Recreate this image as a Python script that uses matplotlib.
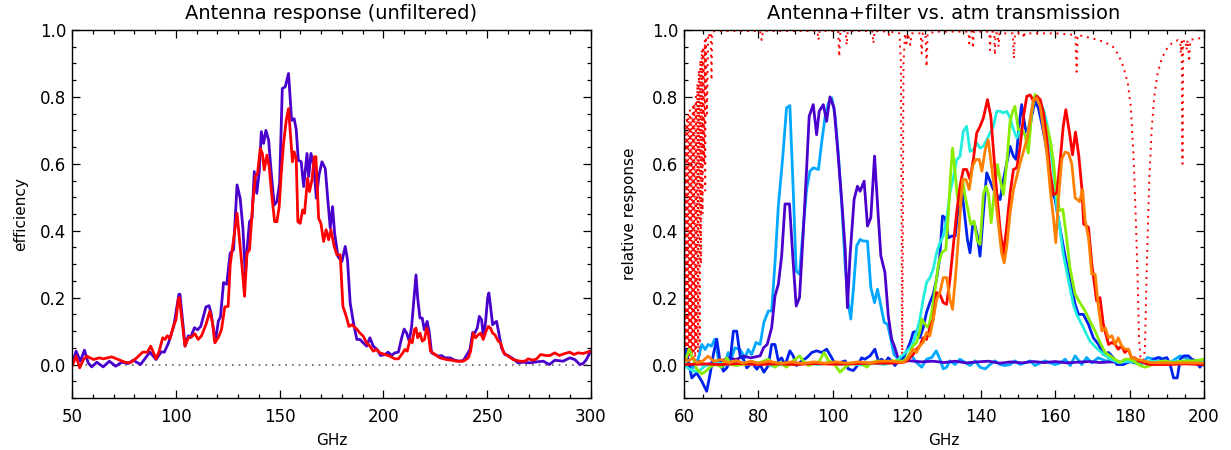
import numpy as np
import matplotlib
matplotlib.use("Agg")
import matplotlib.pyplot as plt
from matplotlib.ticker import MultipleLocator

plt.rcParams['font.family'] = ['DejaVu Sans']

# ---- left panel: antenna efficiency (GHz, efficiency) ----
ant_purple = np.array([
    (50, 0.0), (52, 0.04), (54, 0.01), (56, 0.043), (57.8, 0.005), (59.5, -0.007), (62, 0.007),
    (65, -0.007), (68, 0.01), (71, -0.005), (74, 0.007), (77, 0.003), (79.5, 0.013), (83, 0.0),
    (87.5, 0.037), (90.5, 0.015), (93, 0.038), (94.5, 0.037), (96.5, 0.065), (99, 0.114),
    (101.5, 0.21), (102, 0.21), (104.5, 0.055), (106, 0.086), (107, 0.08), (109, 0.11),
    (110.5, 0.104), (112, 0.114), (114.5, 0.172), (116, 0.176), (117, 0.154), (119, 0.067),
    (120.5, 0.13), (121.5, 0.142), (123, 0.245), (124.5, 0.24), (126.2, 0.333), (127.8, 0.343),
    (129.5, 0.537), (131, 0.497), (132.3, 0.41), (133.5, 0.268), (134.6, 0.363), (135.5, 0.427),
    (136.7, 0.437), (137.8, 0.577), (139, 0.512), (140.2, 0.577), (141.2, 0.696), (142.3, 0.661),
    (143.4, 0.70), (144.7, 0.671), (146, 0.572), (147.4, 0.477), (148.7, 0.487), (150, 0.542),
    (151.3, 0.825), (152.7, 0.83), (154.3, 0.87), (155.8, 0.73), (157, 0.735), (158, 0.703),
    (159, 0.611), (160.4, 0.606), (161.6, 0.532), (163.2, 0.631), (164, 0.562), (165.1, 0.631),
    (166.4, 0.596), (167.7, 0.497), (169, 0.567), (170.4, 0.606), (172, 0.586), (173.3, 0.487),
    (174.4, 0.408), (175.5, 0.472), (176.5, 0.393), (178.1, 0.323), (180, 0.308), (181.6, 0.353),
    (182.7, 0.313), (184, 0.184), (185.6, 0.124), (187.2, 0.075), (188.7, 0.075), (190.3, 0.065),
    (191.9, 0.055), (193.5, 0.08), (195.1, 0.055), (197, 0.045), (198.6, 0.027), (200.7, 0.03),
    (202.3, 0.037), (203.9, 0.027), (205.5, 0.035), (207.2, 0.037), (208.8, 0.08), (210, 0.106),
    (211.2, 0.094), (212.4, 0.07), (213.6, 0.114), (214.7, 0.194), (215.7, 0.268), (216.5, 0.199),
    (217.6, 0.139), (218.7, 0.139), (219.7, 0.104), (221.1, 0.129), (222.1, 0.096), (223.2, 0.035),
    (224.8, 0.03), (226.4, 0.025), (228, 0.027), (229.6, 0.02), (232, 0.02), (234.4, 0.013),
    (236.5, 0.01), (238.5, 0.012), (240, 0.027), (241.7, 0.045), (243, 0.096), (244, 0.094),
    (245.2, 0.109), (246.2, 0.144), (247.3, 0.134), (248.1, 0.085), (249.2, 0.126), (250.2, 0.199),
    (250.8, 0.214), (251.6, 0.174), (252.6, 0.119), (253.7, 0.126), (254.5, 0.129), (255.6, 0.094),
    (256.9, 0.05), (258.5, 0.03), (260.1, 0.027), (262.5, 0.017), (264.9, 0.005), (267.3, 0.007),
    (270.6, 0.005), (273.8, 0.008), (277, 0.01), (279.9, 0.0), (282.6, 0.013), (286.6, 0.01),
    (289.8, 0.02), (292.2, 0.015), (294.6, 0.0), (296.2, 0.003), (297.8, 0.015), (299.8, 0.04),
])

ant_red = np.array([
    (50, -0.005), (52, 0.025), (53.7, -0.01), (55.5, 0.015), (57.2, 0.025), (60.3, 0.015),
    (63.2, 0.02), (65.1, 0.017), (69.1, 0.023), (72.3, 0.015), (75.5, 0.007), (78, 0.005),
    (81.2, 0.02), (84, 0.037), (86.3, 0.037), (87.9, 0.055), (90.5, 0.017), (92, 0.04),
    (93.7, 0.08), (94.8, 0.075), (95.9, 0.086), (97.2, 0.077), (98.8, 0.114), (100.1, 0.134),
    (101.2, 0.194), (101.7, 0.2), (104.4, 0.055), (106, 0.08), (107.6, 0.083), (109.2, 0.092),
    (110.8, 0.075), (112.4, 0.086), (114.5, 0.119), (116.4, 0.159), (117.7, 0.124), (118.8, 0.065),
    (120.4, 0.08), (122, 0.104), (123.6, 0.172), (125.2, 0.174), (126.2, 0.298), (127.8, 0.373),
    (129.5, 0.452), (131, 0.353), (132.2, 0.273), (133.1, 0.204), (134.3, 0.333), (135.5, 0.343),
    (137.2, 0.492), (138.3, 0.562), (139.4, 0.572), (140.7, 0.646), (141.7, 0.631), (142.6, 0.582),
    (143.9, 0.626), (145, 0.591), (146.3, 0.502), (147.6, 0.427), (148.7, 0.427), (149.8, 0.472),
    (150.8, 0.572), (151.9, 0.661), (153.2, 0.73), (154.3, 0.765), (155.4, 0.671), (156.2, 0.606),
    (157, 0.636), (158, 0.616), (158.8, 0.427), (159.9, 0.422), (161.1, 0.462), (162, 0.452),
    (163.5, 0.557), (164.4, 0.517), (165.6, 0.552), (166.7, 0.621), (167.5, 0.621), (168.8, 0.437),
    (169.9, 0.422), (171.2, 0.368), (172.4, 0.403), (173.6, 0.373), (174.7, 0.403), (176.3, 0.353),
    (177.6, 0.328), (179.2, 0.328), (180.5, 0.174), (182.1, 0.144), (183.4, 0.114), (184.8, 0.119),
    (187.2, 0.106), (188.7, 0.094), (190.3, 0.085), (191.9, 0.065), (193.5, 0.055), (195.1, 0.04),
    (196.7, 0.045), (198.3, 0.035), (200.7, 0.03), (203.1, 0.025), (205.5, 0.017), (207.2, 0.017),
    (208.8, 0.03), (210.4, 0.045), (211.5, 0.04), (212.8, 0.075), (213.9, 0.065), (214.9, 0.104),
    (215.7, 0.109), (216.5, 0.08), (217.6, 0.094), (218.7, 0.07), (219.8, 0.075), (220.8, 0.109),
    (221.6, 0.094), (222.7, 0.04), (224.8, 0.03), (227.2, 0.02), (230.4, 0.015), (232.8, 0.013),
    (235.2, 0.01), (238.5, 0.01), (240.9, 0.02), (242, 0.04), (243.3, 0.094), (244.4, 0.08),
    (245.7, 0.089), (246.8, 0.094), (248.1, 0.075), (249.4, 0.099), (250.5, 0.114), (251.6, 0.109),
    (252.6, 0.094), (253.7, 0.089), (255.3, 0.07), (256.4, 0.065), (258, 0.035), (260.1, 0.025),
    (262.5, 0.015), (265.7, 0.01), (268.1, 0.01), (269.8, 0.017), (272.2, 0.013), (273.8, 0.017),
    (275.7, 0.03), (278.3, 0.027), (280.2, 0.027), (282.6, 0.035), (284.7, 0.027), (287.4, 0.033),
    (289.8, 0.037), (291.7, 0.03), (293.8, 0.035), (296.2, 0.033), (299.8, 0.04),
])

# ---- right panel: filtered channels (GHz, relative response) ----
ch_purple = np.array([
    (60, 0.0), (62, 0.0), (64, 0.002), (66, 0.0), (68, 0.005), (70, 0.01), (72, 0.02), (74, 0.015),
    (76, 0.025), (78, 0.02), (80.5, 0.026), (81.4, 0.05), (82.4, 0.06), (83.6, 0.11), (84.5, 0.205),
    (85.4, 0.24), (86.3, 0.325), (87.2, 0.48), (88.4, 0.48), (89.4, 0.305), (90.2, 0.175),
    (91.1, 0.2), (92.1, 0.394), (93, 0.583), (93.7, 0.742), (94.8, 0.777), (95.7, 0.687),
    (96.4, 0.757), (97.5, 0.777), (98.4, 0.727), (99.3, 0.8), (100.4, 0.767), (101.3, 0.652),
    (102.5, 0.484), (103.4, 0.344), (104, 0.17), (104.7, 0.325), (105.8, 0.494), (106.7, 0.533),
    (107.4, 0.518), (108.5, 0.548), (109.4, 0.414), (110.3, 0.439), (111.3, 0.623), (112.3, 0.444),
    (113, 0.325), (114.1, 0.275), (115, 0.146), (115.9, 0.076), (116.8, 0.05), (117.7, 0.016),
    (119.1, 0.011), (121, 0.011), (124, 0.008), (127, 0.01), (130, 0.006), (133, 0.01), (136, 0.005),
    (139, 0.008), (142, 0.01), (145, 0.004), (148, 0.008), (151, 0.005), (154, 0.009), (157, 0.006),
    (160, 0.009), (163, 0.005), (166, 0.007), (169, 0.009), (172, 0.006), (175, 0.008), (178, 0.007),
    (181, 0.009), (184, 0.006), (187, 0.008), (190, 0.006), (193, 0.008), (196, 0.007), (200, 0.008),
])

ch_lightblue = np.array([
    (60, 0.04), (60.3, 0.036), (61.2, 0.0), (62.5, -0.01), (63.9, 0.02), (64.8, 0.06), (65.7, 0.045),
    (66.5, 0.06), (67.4, 0.055), (68.3, 0.076), (69.2, 0.02), (70.1, -0.01), (71, 0.0), (71.9, 0.036),
    (72.8, 0.02), (73.7, 0.05), (75.1, 0.045), (76.4, 0.02), (77.3, 0.045), (78.2, 0.03),
    (79.4, 0.066), (80.5, 0.06), (81.5, 0.126), (82.7, 0.16), (83.6, 0.16), (84.5, 0.305),
    (85.4, 0.474), (86.6, 0.622), (87.6, 0.767), (88.5, 0.774), (89.4, 0.523), (90.2, 0.28),
    (91.1, 0.27), (92, 0.394), (93, 0.523), (93.9, 0.578), (94.8, 0.588), (96.2, 0.583),
    (97.1, 0.667), (98, 0.742), (98.9, 0.782), (99.8, 0.797), (100.7, 0.742), (101.6, 0.623),
    (102.5, 0.474), (103.4, 0.295), (104.2, 0.185), (104.9, 0.136), (105.6, 0.225), (106.5, 0.355),
    (107.4, 0.374), (108.3, 0.369), (109.4, 0.369), (110.3, 0.23), (111.3, 0.185), (112.1, 0.225),
    (113, 0.176), (113.9, 0.126), (114.8, 0.12), (115.7, 0.076), (116.5, 0.031), (117.7, 0.016),
    (119, 0.026), (120, 0.016), (121.3, 0.026), (122.6, 0.006), (124, -0.008), (125.3, 0.016),
    (126.7, 0.021), (127.9, 0.041), (128.9, 0.016), (129.8, -0.013), (130.7, -0.008), (131.6, 0.011),
    (133, 0.0), (134.3, 0.016), (135.7, 0.006), (137, -0.003), (138.4, 0.011), (139.7, -0.008),
    (141.1, -0.013), (142.4, 0.0), (143.7, 0.011), (145.1, 0.0), (146.4, -0.003), (147.8, 0.0),
    (149.1, 0.011), (150.5, 0.0), (151.8, 0.005), (153.2, 0.011), (154.5, -0.003), (155.9, 0.005),
    (157.2, 0.011), (158.6, 0.005), (159.9, 0.0), (161.3, 0.005), (162.6, 0.016), (164, -0.003),
    (165.3, 0.026), (167.1, 0.0), (168.4, 0.021), (169.8, 0.005), (171.5, 0.02), (173.8, 0.01),
    (175.5, 0.016), (177.5, 0.005), (179.5, 0.01), (181.3, 0.005), (183.1, 0.0), (184.8, 0.021),
    (186.4, 0.016), (188.2, 0.021), (189.5, 0.01), (190.9, 0.005), (192.2, 0.016), (193.6, 0.026),
    (194.9, 0.021), (196.3, 0.01), (197.6, 0.005), (199, 0.01), (200, 0.01),
])

ch_blue = np.array([
    (60, 0.04), (60.3, 0.046), (61.2, 0.01), (62.1, -0.04), (63.4, -0.025), (64.8, -0.05),
    (66.1, -0.08), (67, -0.03), (67.9, 0.03), (68.8, 0.076), (69.7, 0.01), (70.6, -0.02),
    (71.5, -0.01), (72.4, 0.01), (73.3, 0.1), (74.2, 0.1), (75.1, 0.026), (76, 0.016),
    (76.9, -0.01), (77.8, 0.0), (78.7, 0.0), (79.6, -0.014), (80.5, 0.0), (81.5, -0.023),
    (82.7, -0.003), (83.6, 0.06), (84.5, 0.06), (85.4, 0.011), (86.3, 0.02), (87.2, -0.003),
    (88.5, 0.041), (89.4, 0.026), (90.3, -0.003), (91.7, 0.011), (93, 0.02), (94.4, 0.036),
    (95.7, 0.041), (97.1, 0.036), (98.4, 0.046), (99.8, 0.02), (100.7, 0.0), (102, 0.006),
    (103.4, 0.011), (104.2, -0.013), (105.6, -0.018), (106.9, 0.0), (107.8, 0.02), (108.7, 0.016),
    (110.1, 0.026), (111.4, 0.046), (112.3, 0.011), (113.2, 0.016), (114.1, 0.006), (115, 0.02),
    (115.9, 0.011), (116.8, -0.003), (117.7, 0.011), (118.6, 0.011), (119.9, 0.04), (120.9, 0.066),
    (121.7, 0.096), (122.6, 0.1), (123.5, 0.08), (124.4, 0.11), (125.3, 0.156), (126.2, 0.185),
    (127.1, 0.21), (128, 0.255), (128.8, 0.315), (129.6, 0.444), (130.3, 0.439), (131.2, 0.379),
    (132.1, 0.384), (133, 0.384), (133.9, 0.474), (134.8, 0.523), (135.7, 0.434), (136.3, 0.374),
    (137, 0.334), (137.7, 0.414), (138.4, 0.414), (139, 0.384), (139.7, 0.324), (140.6, 0.453),
    (141.5, 0.573), (142.4, 0.548), (143.3, 0.523), (144.2, 0.508), (145.1, 0.493), (146, 0.553),
    (146.9, 0.603), (147.8, 0.652), (148.7, 0.623), (149.4, 0.613), (150.2, 0.712), (150.9, 0.777),
    (151.8, 0.712), (152.7, 0.672), (153.6, 0.742), (154.5, 0.787), (155.4, 0.767), (156.3, 0.722),
    (157.2, 0.672), (158.1, 0.608), (159, 0.518), (159.9, 0.494), (160.8, 0.434), (161.7, 0.379),
    (162.6, 0.324), (163.5, 0.275), (164.4, 0.225), (165.3, 0.18), (166.2, 0.15), (167.5, 0.15),
    (168.9, 0.12), (170.2, 0.08), (171.6, 0.06), (172.9, 0.03), (174.3, 0.036), (175.6, 0.02),
    (176.5, 0.0), (178.3, 0.0), (180.1, 0.01), (181.9, 0.006), (183.7, 0.009), (185, -0.003),
    (186.4, 0.016), (187.7, 0.021), (188.6, 0.016), (190, 0.021), (190.9, 0.0), (191.8, -0.04),
    (192.8, -0.04), (193.6, 0.016), (194.6, 0.026), (195.8, 0.026), (196.7, 0.016), (198, 0.011),
    (198.9, -0.008), (199.8, 0.006), (200, 0.0),
])

ch_cyan = np.array([
    (60, 0.0), (61, -0.01), (62.5, -0.02), (64, -0.02), (65.5, -0.005), (67, 0.0), (69, 0.005),
    (72, 0.0), (75, 0.008), (78, 0.0), (81, 0.005), (84, -0.005), (87, 0.003), (90, 0.0),
    (93, 0.004), (96, 0.0), (99, 0.006), (102, 0.0), (105, 0.003), (108, -0.002), (111, 0.004),
    (114, 0.0), (117, 0.01), (119.1, 0.03), (120, 0.041), (120.9, 0.05), (121.7, 0.066),
    (122.6, 0.096), (123.5, 0.136), (124.4, 0.195), (125.3, 0.245), (126.2, 0.26), (127.1, 0.285),
    (128, 0.334), (128.9, 0.364), (129.8, 0.384), (130.7, 0.434), (131.6, 0.513), (132.5, 0.558),
    (133.4, 0.612), (134.3, 0.622), (135.2, 0.697), (136.1, 0.712), (137, 0.637), (137.9, 0.642),
    (138.8, 0.662), (139.7, 0.647), (140.6, 0.652), (141.5, 0.672), (142.4, 0.692), (143.3, 0.712),
    (144.2, 0.757), (145.1, 0.757), (146, 0.752), (146.9, 0.757), (147.8, 0.737), (148.7, 0.702),
    (149.6, 0.677), (150.5, 0.702), (151.4, 0.692), (152.3, 0.682), (153.2, 0.732), (154.1, 0.792),
    (155, 0.797), (155.9, 0.782), (156.8, 0.762), (157.7, 0.722), (158.6, 0.652), (159.5, 0.573),
    (160.4, 0.464), (161.3, 0.4), (162.1, 0.33), (163, 0.28), (163.9, 0.23), (164.8, 0.18),
    (165.7, 0.15), (167.1, 0.12), (168.4, 0.09), (169.3, 0.07), (171, 0.05), (173, 0.03),
    (175, 0.015), (177, 0.006), (180, 0.01), (183, 0.006), (186, 0.01), (190, 0.008), (194, 0.01),
    (200, 0.008),
])

ch_green = np.array([
    (60, 0.01), (60.3, 0.01), (61.4, 0.046), (62.5, 0.016), (63.4, -0.013), (64.8, -0.028),
    (66.1, -0.018), (67.5, -0.003), (68.8, 0.0), (70.1, -0.008), (71.5, 0.02), (72.8, 0.0),
    (74.2, -0.003), (75.5, 0.0), (76.9, 0.0), (78.2, 0.01), (79.6, 0.005), (80.5, 0.006),
    (82.7, 0.016), (84.5, -0.008), (86, 0.006), (87.6, -0.008), (89.4, 0.011), (91.1, 0.026),
    (92.1, 0.011), (93.5, -0.003), (94.9, 0.002), (96.2, 0.006), (97.7, 0.036), (98.9, 0.011),
    (100.2, 0.006), (102, -0.023), (103.4, -0.008), (104.7, 0.002), (106, 0.002), (107.4, 0.006),
    (109.2, -0.008), (110.5, 0.006), (112.3, 0.011), (114.1, 0.006), (115.9, 0.011), (117.7, 0.011),
    (119, 0.01), (120, 0.02), (120.9, 0.036), (121.7, 0.056), (122.6, 0.066), (123.5, 0.1),
    (124, 0.136), (124.9, 0.12), (125.8, 0.11), (126.7, 0.156), (127.6, 0.225), (128.5, 0.3),
    (129.4, 0.334), (130.5, 0.344), (131.2, 0.454), (131.8, 0.573), (132.3, 0.647), (133, 0.573),
    (133.6, 0.499), (134.3, 0.479), (135, 0.553), (135.7, 0.503), (136.6, 0.454), (137.2, 0.419),
    (138.1, 0.429), (139, 0.369), (139.7, 0.359), (140.6, 0.508), (141.3, 0.533), (142, 0.508),
    (142.7, 0.424), (143.5, 0.513), (144.4, 0.598), (145.1, 0.553), (146, 0.508), (146.9, 0.603),
    (147.8, 0.727), (148.5, 0.757), (149.1, 0.772), (150, 0.702), (150.9, 0.702), (151.8, 0.687),
    (152.7, 0.632), (153.6, 0.752), (154.5, 0.807), (155.1, 0.802), (155.9, 0.782), (156.8, 0.732),
    (157.7, 0.712), (158.6, 0.672), (159.5, 0.603), (160.2, 0.523), (161.1, 0.46), (162, 0.464),
    (163, 0.38), (163.9, 0.29), (165.3, 0.21), (166.6, 0.185), (168, 0.16), (169.3, 0.13),
    (170.7, 0.1), (172, 0.066), (173.4, 0.036), (174.7, 0.026), (176, 0.016), (177.4, 0.006),
    (178.7, 0.016), (180.1, 0.016), (181, 0.011), (182.8, -0.003), (184.1, -0.008), (185.5, -0.003),
    (187.3, 0.006), (189.1, 0.011), (191.8, 0.006), (194.5, 0.011), (197.1, 0.011), (200, 0.016),
])

ch_red = np.array([
    (60, 0.0), (65, 0.002), (70, 0.0), (75, 0.003), (80, 0.0), (85, 0.002), (90, 0.0), (95, 0.003),
    (100, 0.001), (105, 0.002), (110, 0.004), (115, 0.004), (119, 0.006), (120, 0.011),
    (120.9, 0.021), (121.7, 0.03), (122.6, 0.046), (123.5, 0.056), (124.4, 0.08), (125.3, 0.075),
    (126.2, 0.11), (127.1, 0.136), (128, 0.215), (128.9, 0.21), (129.8, 0.185), (130.7, 0.18),
    (131.6, 0.255), (132.5, 0.354), (133.4, 0.454), (134.3, 0.533), (135.2, 0.583), (136.1, 0.583),
    (137, 0.553), (137.9, 0.613), (138.8, 0.692), (139.7, 0.712), (140.6, 0.737), (141.7, 0.792),
    (142.6, 0.742), (143.3, 0.642), (144.2, 0.513), (145.1, 0.404), (146, 0.33), (146.9, 0.414),
    (147.8, 0.513), (148.7, 0.583), (149.6, 0.588), (150.5, 0.652), (151.4, 0.742), (152.3, 0.802),
    (153.2, 0.806), (154.1, 0.787), (155, 0.802), (155.9, 0.792), (156.8, 0.752), (157.7, 0.672),
    (158.6, 0.573), (159.5, 0.508), (160.4, 0.513), (161.3, 0.613), (162.1, 0.712), (162.8, 0.762),
    (163.8, 0.692), (164.6, 0.627), (165.4, 0.695), (166.3, 0.623), (167.1, 0.528), (167.6, 0.42),
    (168.9, 0.41), (169.8, 0.3), (171.1, 0.19), (172, 0.2), (172.9, 0.12), (174.3, 0.06),
    (175.2, 0.066), (176.1, 0.06), (176.9, 0.046), (177.8, 0.056), (178.7, 0.036), (179.6, 0.046),
    (180.5, 0.02), (181.4, 0.02), (182.3, 0.011), (183.7, 0.006), (185.5, 0.0), (190, 0.0),
    (195, 0.002), (200, 0.0),
])

ch_orange = np.array([
    (60, 0.02), (61, 0.01), (62.5, 0.02), (63.5, 0.005), (65, 0.01), (66.5, 0.025), (68, 0.01),
    (70, 0.015), (72, 0.005), (74, 0.012), (76, 0.004), (78, 0.01), (80, 0.004), (83, 0.01),
    (86, 0.003), (89, 0.008), (92, 0.003), (95, 0.008), (98, 0.004), (101, 0.008), (104, 0.004),
    (107, 0.008), (110, 0.005), (113, 0.01), (116, 0.01), (119, 0.006), (120, 0.016), (120.9, 0.03),
    (121.7, 0.046), (122.6, 0.036), (123.5, 0.056), (124.4, 0.066), (125.3, 0.096), (126.2, 0.086),
    (127.1, 0.136), (128, 0.195), (128.9, 0.215), (129.8, 0.26), (130.7, 0.26), (131.6, 0.195),
    (132.3, 0.165), (133.2, 0.275), (134.1, 0.414), (135, 0.553), (135.9, 0.553), (136.8, 0.523),
    (137.7, 0.593), (138.6, 0.613), (139.5, 0.613), (140.2, 0.578), (141.1, 0.642), (141.9, 0.672),
    (142.8, 0.593), (143.7, 0.513), (144.6, 0.424), (145.5, 0.334), (146.2, 0.304), (146.9, 0.354),
    (147.8, 0.454), (148.7, 0.523), (149.6, 0.563), (150.5, 0.603), (151.4, 0.637), (152.3, 0.672),
    (153.2, 0.732), (154.1, 0.792), (155, 0.797), (155.9, 0.772), (156.8, 0.702), (157.7, 0.632),
    (158.6, 0.523), (159.5, 0.434), (160.1, 0.364), (160.8, 0.494), (161.7, 0.613), (162.6, 0.635),
    (163.5, 0.632), (164.4, 0.6), (165.3, 0.499), (166.5, 0.487), (167.3, 0.523), (168, 0.43),
    (168.9, 0.38), (169.8, 0.27), (170.7, 0.27), (171.6, 0.17), (172.5, 0.1), (173.4, 0.11),
    (174.3, 0.08), (175.2, 0.086), (176.1, 0.06), (176.9, 0.08), (177.8, 0.056), (178.7, 0.046),
    (179.6, 0.046), (180.5, 0.021), (181.9, 0.016), (183.7, 0.011), (185.5, 0.006), (190, 0.005),
    (195, 0.005), (200, 0.005),
])

# atmospheric transmission (GHz, transmission)
atm = np.array([
    (60.0, 0.70), (60.2, 0.02), (60.4, 0.72), (60.6, 0.01), (60.8, 0.74), (61.0, 0.02), (61.2, 0.75),
    (61.4, 0.01), (61.6, 0.76), (61.8, 0.03), (62.0, 0.74), (62.2, 0.02), (62.4, 0.77), (62.6, 0.04),
    (62.8, 0.78), (63.0, 0.02), (63.2, 0.80), (63.4, 0.05), (63.6, 0.84), (63.8, 0.02), (64.0, 0.88),
    (64.2, 0.01), (64.4, 0.91), (64.6, 0.30), (64.8, 0.94), (65.0, 0.45), (65.2, 0.95), (65.4, 0.60),
    (65.6, 0.97), (65.7, 0.52), (65.9, 0.98), (66.2, 0.75), (66.5, 0.99), (66.9, 0.98), (67.2, 0.99),
    (67.4, 0.85), (67.6, 0.995), (68.5, 0.997), (75, 0.997), (80.5, 0.997), (80.9, 0.97),
    (81.3, 0.997), (90, 0.997), (95.9, 0.997), (96.2, 0.97), (96.5, 0.997), (101.5, 0.997),
    (101.8, 0.92), (102.1, 0.997), (103.5, 0.997), (103.8, 0.955), (104.1, 0.997), (110.7, 0.997),
    (111.0, 0.96), (111.3, 0.997), (115, 0.995), (115.2, 0.985), (115.4, 0.995), (118.0, 0.99),
    (118.4, 0.9), (118.6, 0.4), (118.75, 0.0), (118.9, 0.4), (119.1, 0.9), (119.5, 0.99),
    (119.9, 0.96), (120.3, 0.99), (120.9, 0.955), (121.3, 0.99), (123.7, 0.99), (124.0, 0.93),
    (124.3, 0.99), (125.0, 0.99), (125.3, 0.89), (125.6, 0.99), (128, 0.995), (136.6, 0.995),
    (136.8, 0.96), (137.0, 0.995), (137.6, 0.995), (137.8, 0.945), (138.0, 0.995), (142.2, 0.995),
    (142.4, 0.94), (142.6, 0.995), (143.5, 0.995), (143.7, 0.925), (143.9, 0.99), (144.5, 0.99),
    (144.7, 0.95), (144.9, 0.99), (148.5, 0.99), (148.8, 0.915), (149.1, 0.99), (151.3, 0.99),
    (151.5, 0.975), (151.7, 0.99), (160, 0.99), (165.4, 0.985), (165.7, 0.875), (166.0, 0.985),
    (170, 0.975), (173, 0.965), (175.5, 0.95), (177, 0.925), (178.3, 0.89), (179.5, 0.84),
    (180.3, 0.77), (181.0, 0.63), (181.6, 0.45), (182.1, 0.27), (182.5, 0.08), (182.9, 0.02),
    (183.3, 0.0), (183.7, 0.01), (184.1, 0.05), (184.4, 0.2), (184.8, 0.38), (185.3, 0.56),
    (185.9, 0.70), (186.6, 0.80), (187.5, 0.87), (188.5, 0.91), (189.7, 0.94), (191.3, 0.96),
    (193.0, 0.97), (193.6, 0.965), (193.8, 0.93), (194.0, 0.965), (194.2, 0.60), (194.4, 0.965),
    (195.0, 0.97), (195.3, 0.94), (195.6, 0.97), (196.0, 0.905), (196.3, 0.97), (198, 0.975),
    (200, 0.975),
])

right_series = [
    (ch_lightblue, '#00a8ff'),
    (ch_purple, '#4a00cc'),
    (ch_blue, '#0022ee'),
    (ch_cyan, '#22eedd'),
    (ch_green, '#88ee00'),
    (ch_red, '#ff0000'),
    (ch_orange, '#ff8000'),
]


def style_axes(ax, xmajor, xminor):
    ax.set_ylim(-0.1, 1.0)
    ax.xaxis.set_major_locator(MultipleLocator(xmajor))
    ax.xaxis.set_minor_locator(MultipleLocator(xminor))
    ax.yaxis.set_major_locator(MultipleLocator(0.2))
    ax.yaxis.set_minor_locator(MultipleLocator(0.05))
    ax.yaxis.set_major_formatter(plt.FormatStrFormatter('%.1f'))
    ax.tick_params(which='both', direction='in', top=True, right=True, width=0.9)
    ax.tick_params(which='major', length=6)
    ax.tick_params(which='minor', length=3)
    ax.tick_params(axis='x', which='major', pad=7, labelsize=12)
    ax.tick_params(axis='y', which='major', pad=4, labelsize=12)
    for s in ax.spines.values():
        s.set_linewidth(1.0)


fig = plt.figure(figsize=(12.31, 4.5), dpi=100)

ax1 = fig.add_axes([72 / 1231, 1 - 398 / 450, 519 / 1231, 368 / 450])
ax1.axhline(0, color='#666666', lw=1.2, ls=(0, (1, 3)))
ax1.plot(ant_purple[:, 0], ant_purple[:, 1], color='#4a00cc', lw=2.0)
ax1.plot(ant_red[:, 0], ant_red[:, 1], color='#ff0000', lw=2.0)
ax1.set_xlim(50, 300)
style_axes(ax1, 50, 10)
ax1.set_title('Antenna response (unfiltered)', fontsize=14, pad=8)
ax1.set_xlabel('GHz', fontsize=11)
ax1.set_ylabel('efficiency', fontsize=11)
ax1.xaxis.set_label_coords(0.5, -0.095)
ax1.yaxis.set_label_coords(-0.085, 0.5)

ax2 = fig.add_axes([684 / 1231, 1 - 398 / 450, 520 / 1231, 368 / 450])
ax2.plot(atm[:, 0], atm[:, 1], color='#ff0000', lw=1.4, ls=(0, (1, 2.5)))
for data, col in right_series:
    ax2.plot(data[:, 0], data[:, 1], color=col, lw=2.0)
ax2.set_xlim(60, 200)
style_axes(ax2, 20, 5)
ax2.set_title('Antenna+filter vs. atm transmission', fontsize=14, pad=8)
ax2.set_xlabel('GHz', fontsize=11)
ax2.set_ylabel('relative response', fontsize=11)
ax2.xaxis.set_label_coords(0.5, -0.095)
ax2.yaxis.set_label_coords(-0.09, 0.5)

fig.savefig('out.png', dpi=100)
